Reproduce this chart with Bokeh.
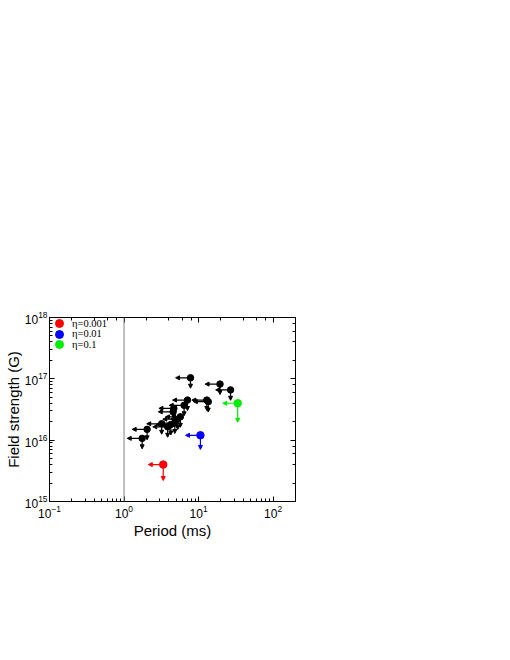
from bokeh.plotting import figure
from bokeh.models import (Range1d, LogAxis, Arrow, NormalHead, Span, Legend,
                          LegendItem, ColumnDataSource, CustomJSTickFormatter)
from bokeh.embed import file_html
from bokeh.resources import INLINE

# ---- data (period in ms, field strength in G; upper limits) ----
period_black = [7.8, 19.4, 26.9, 7.1, 12.9, 13.5, 6.4, 4.66, 4.56, 5.7,
                5.25, 4.8, 4.25, 3.85, 3.2, 2.04, 1.75]
field_black = [1.04e17, 8.2e16, 6.6e16, 4.5e16, 4.5e16, 4.25e16, 3.7e16,
               3.3e16, 2.9e16, 2.4e16, 2.2e16, 1.9e16, 1.8e16, 1.65e16,
               1.85e16, 1.5e16, 1.07e16]

eta_labels = ["η=0.001", "η=0.01", "η=0.1"]
eta_colors = ["#ff0000", "#0000ff", "#00ee00"]
period_eta = [3.36, 10.6, 33.5]
field_eta = [4.0e15, 1.2e16, 4.0e16]
down_len_eta = [0.26, 0.23, 0.31]   # decades

left_len = 0.2     # decades
down_len_black = 0.17
spin_limit = 1.0   # ms

FONT = "Liberation Sans"
FRAME_H = 184

p = figure(x_axis_type="log", y_axis_type="log",
           x_range=Range1d(0.1, 200), y_range=Range1d(1e15, 1e18),
           frame_width=246, frame_height=FRAME_H,
           min_border_left=49, min_border_top=317, min_border_right=12,
           min_border_bottom=40,
           output_backend="svg", toolbar_location=None)
p.xgrid.visible = False
p.ygrid.visible = False
p.outline_line_color = "black"
p.outline_line_width = 1
p.background_fill_color = "white"
p.border_fill_color = "white"

for ax in (p.xaxis[0], p.yaxis[0]):
    ax.major_tick_in = 5
    ax.major_tick_out = 0
    ax.minor_tick_in = 3
    ax.minor_tick_out = 0
    ax.major_label_text_font = FONT
    ax.major_label_text_font_size = "12px"
    ax.major_label_text_color = "black"
    ax.axis_label_text_font = FONT
    ax.axis_label_text_font_style = "normal"
    ax.axis_label_text_font_size = "15px"
    ax.axis_label_text_color = "black"
    ax.axis_line_color = "black"
p.xaxis[0].axis_label = "Period (ms)"
p.yaxis[0].axis_label = "Field strength (G)"
p.xaxis[0].major_label_standoff = 3
p.xaxis[0].axis_label_standoff = 1
p.yaxis[0].major_label_standoff = 2
p.yaxis[0].axis_label_standoff = 0

blank = CustomJSTickFormatter(code="return ''")
for loc in ("above", "right"):
    a = LogAxis(formatter=blank, major_tick_in=5, major_tick_out=0,
                minor_tick_in=3, minor_tick_out=0, major_label_standoff=0,
                axis_line_color="black")
    p.add_layout(a, loc)

p.add_layout(Span(location=spin_limit, dimension="height",
                  line_color="#808080", line_width=1))

# arrows (upper limits)
def add_arrows(xs, ys, dl, color):
    src_l = ColumnDataSource(dict(x0=xs, y0=ys, x1=[x / 10 ** left_len for x in xs], y1=ys))
    src_d = ColumnDataSource(dict(x0=xs, y0=ys, x1=xs, y1=[y / 10 ** d for y, d in zip(ys, dl)]))
    for src in (src_l, src_d):
        p.add_layout(Arrow(source=src, x_start="x0", y_start="y0", x_end="x1", y_end="y1",
                           line_color=color, line_width=1.2,
                           end=NormalHead(size=4, fill_color=color, line_color=color, line_width=1)))

add_arrows(period_black, field_black, [down_len_black] * len(period_black), "black")
for i in range(3):
    add_arrows([period_eta[i]], [field_eta[i]], [down_len_eta[i]], eta_colors[i])

p.scatter(period_black, field_black, marker="circle", size=6.5,
          fill_color="black", line_color="black")

# one-item legends stacked tightly in the top-left corner
row_pitch = 10.7
first_center = 6
for i in range(3):
    r = p.scatter([period_eta[i]], [field_eta[i]], marker="circle", size=7.5,
                  fill_color=eta_colors[i], line_color=eta_colors[i])
    bottom = FRAME_H - (first_center + i * row_pitch + 10)
    leg = Legend(items=[LegendItem(label=eta_labels[i], renderers=[r])],
                 location=(0, bottom), border_line_alpha=0,
                 background_fill_alpha=0, margin=0, padding=0, spacing=0,
                 glyph_width=20, glyph_height=20, label_height=10,
                 label_standoff=3, label_text_font="Liberation Serif",
                 label_text_font_size="10.5px", label_text_color="black")
    p.add_layout(leg)

open("out.html", "w").write(file_html(p, INLINE))
